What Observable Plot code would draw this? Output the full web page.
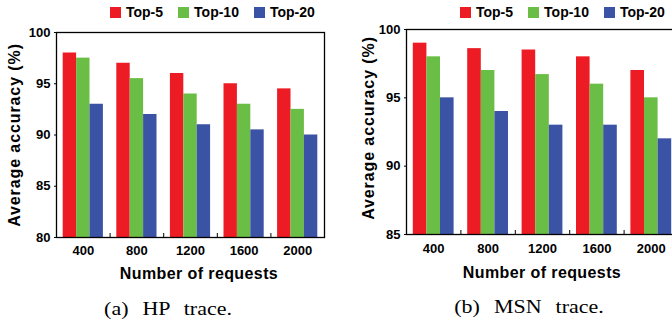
<!DOCTYPE html>
<html>
<head>
<meta charset="utf-8">
<script src="https://cdn.jsdelivr.net/npm/d3@7"></script>
<script src="https://cdn.jsdelivr.net/npm/@observablehq/plot@0.6"></script>
<style>
  html, body { margin: 0; padding: 0; background: #fff; overflow: hidden; }
  #wrap { position: relative; width: 672px; height: 325px; overflow: hidden; font-family: "Liberation Sans", Arial, sans-serif; }
  .abs { position: absolute; white-space: nowrap; }
  .xt { font-size: 16px; line-height: 16px; font-weight: bold; letter-spacing: 0.4px; transform: translateX(-50%); color: #000; }
  .yt { font-size: 16px; line-height: 16px; font-weight: bold; letter-spacing: 0.9px; transform: translate(-50%, -50%) rotate(-90deg); color: #000; }
  .cap { font-family: "Liberation Serif", "Times New Roman", serif; font-size: 18px; line-height: 18px; word-spacing: 7px; transform: translateX(-50%) scaleX(1.22); color: #000; }
  .lg-swatches { margin: 0 !important; min-height: 0 !important; width: max-content !important; white-space: nowrap !important; flex-wrap: nowrap !important; }
  .lg-swatches, .lg-swatches *, .lg-swatch { font-family: "Liberation Sans", Arial, sans-serif !important; font-size: 14px !important; font-weight: bold !important; line-height: 16px !important; color: #000 !important; }
  .lg-swatch { margin-right: 15px !important; white-space: nowrap !important; }
  .lg-swatch > svg { margin-right: 5px !important; }
</style>
</head>
<body>
<div id="wrap"></div>
<script>
const requests = ["400", "800", "1200", "1600", "2000"];
const series = ["Top-5", "Top-10", "Top-20"];
const colors = ["#ED1C24", "#6ABD45", "#3A53A4"];

const hpTop5  = [98, 97, 96, 95, 94.5];
const hpTop10 = [97.5, 95.5, 94, 93, 92.5];
const hpTop20 = [93, 92, 91, 90.5, 90];
const hpYTicks = [80, 85, 90, 95, 100];

const msnTop5  = [99, 98.6, 98.5, 98, 97];
const msnTop10 = [98, 97, 96.7, 96, 95];
const msnTop20 = [95, 94, 93, 93, 92];
const msnYTicks = [85, 90, 95, 100];

const xTitle = "Number of requests";
const yTitle = "Average accuracy (%)";
const captions = ["(a) HP trace.", "(b) MSN trace."];

const wrap = document.getElementById("wrap");
const font = "Liberation Sans, Arial, sans-serif";

function panel(vals, yTicks, cfg) {
  const rows = requests.flatMap((r, gi) => series.map((s, si) => ({gi, si, req: r, series: s, value: vals[si][gi]})));
  const yMin = d3.min(yTicks), yMax = d3.max(yTicks);
  const groupIdx = d3.range(requests.length);
  const chart = Plot.plot({
    width: cfg.width, height: cfg.height,
    marginLeft: cfg.ml, marginRight: cfg.mr, marginTop: cfg.mt, marginBottom: cfg.mb,
    style: {fontFamily: font, fontSize: "13px", fontWeight: "bold", color: "#000", background: "transparent", overflow: "visible"},
    x: {domain: [0, requests.length]},
    y: {domain: [yMin, yMax]},
    color: {domain: series, range: colors},
    marks: [
      Plot.rectY(rows, {
        x1: d => d.gi + 0.125 + d.si * 0.25,
        x2: d => d.gi + 0.125 + (d.si + 1) * 0.25,
        y1: yMin, y2: "value", fill: "series"
      }),
      Plot.axisY({ticks: yTicks, tickSize: 2, tickPadding: 4, tickFormat: d3.format("d"), label: null, stroke: "#000"}),
      Plot.axisX({ticks: groupIdx.map(i => i + 0.5), tickSize: 0, tickPadding: cfg.xpad, tickFormat: d => requests[Math.round(d - 0.5)], label: null}),
      Plot.axisX({ticks: groupIdx.slice(1), tickSize: -4, tickFormat: () => "", label: null, stroke: "#000"}),
      Plot.frame({stroke: "#000", strokeWidth: 1.3})
    ]
  });
  chart.style.position = "absolute";
  chart.style.left = cfg.left + "px";
  chart.style.top = "0px";
  wrap.appendChild(chart);

  const lg = Plot.legend({
    color: {domain: series, range: colors},
    legend: "swatches", swatchSize: 11, className: "lg",
    style: {fontFamily: font, fontSize: "14px", fontWeight: "bold", color: "#000", background: "transparent"}
  });
  lg.style.position = "absolute";
  lg.style.left = cfg.lgLeft + "px";
  lg.style.top = cfg.lgTop + "px";
  lg.style.width = "max-content";
  lg.style.whiteSpace = "nowrap";
  wrap.appendChild(lg);

  const xt = document.createElement("div");
  xt.className = "abs xt"; xt.textContent = xTitle;
  xt.style.left = cfg.xtX + "px"; xt.style.top = cfg.xtY + "px";
  wrap.appendChild(xt);

  const yt = document.createElement("div");
  yt.className = "abs yt"; yt.textContent = yTitle;
  yt.style.left = cfg.ytX + "px"; yt.style.top = cfg.ytY + "px";
  wrap.appendChild(yt);

  const cp = document.createElement("div");
  cp.className = "abs cap"; cp.textContent = cfg.caption;
  cp.style.left = cfg.capX + "px"; cp.style.top = cfg.capY + "px";
  wrap.appendChild(cp);
}

panel([hpTop5, hpTop10, hpTop20], hpYTicks, {
  left: 0, width: 336, height: 262, ml: 56, mr: 12, mt: 32, mb: 25, xpad: 8,
  lgLeft: 110, lgTop: 4, xtX: 199, xtY: 265.5, ytX: 15, ytY: 135,
  caption: captions[0], capX: 168, capY: 300
});
panel([msnTop5, msnTop10, msnTop20], msnYTicks, {
  left: 336, width: 342, height: 262, ml: 70, mr: 0, mt: 29, mb: 28, xpad: 9,
  lgLeft: 460, lgTop: 4, xtX: 542, xtY: 265, ytX: 369, ytY: 128,
  caption: captions[1], capX: 529, capY: 297.5
});
</script>
</body>
</html>
